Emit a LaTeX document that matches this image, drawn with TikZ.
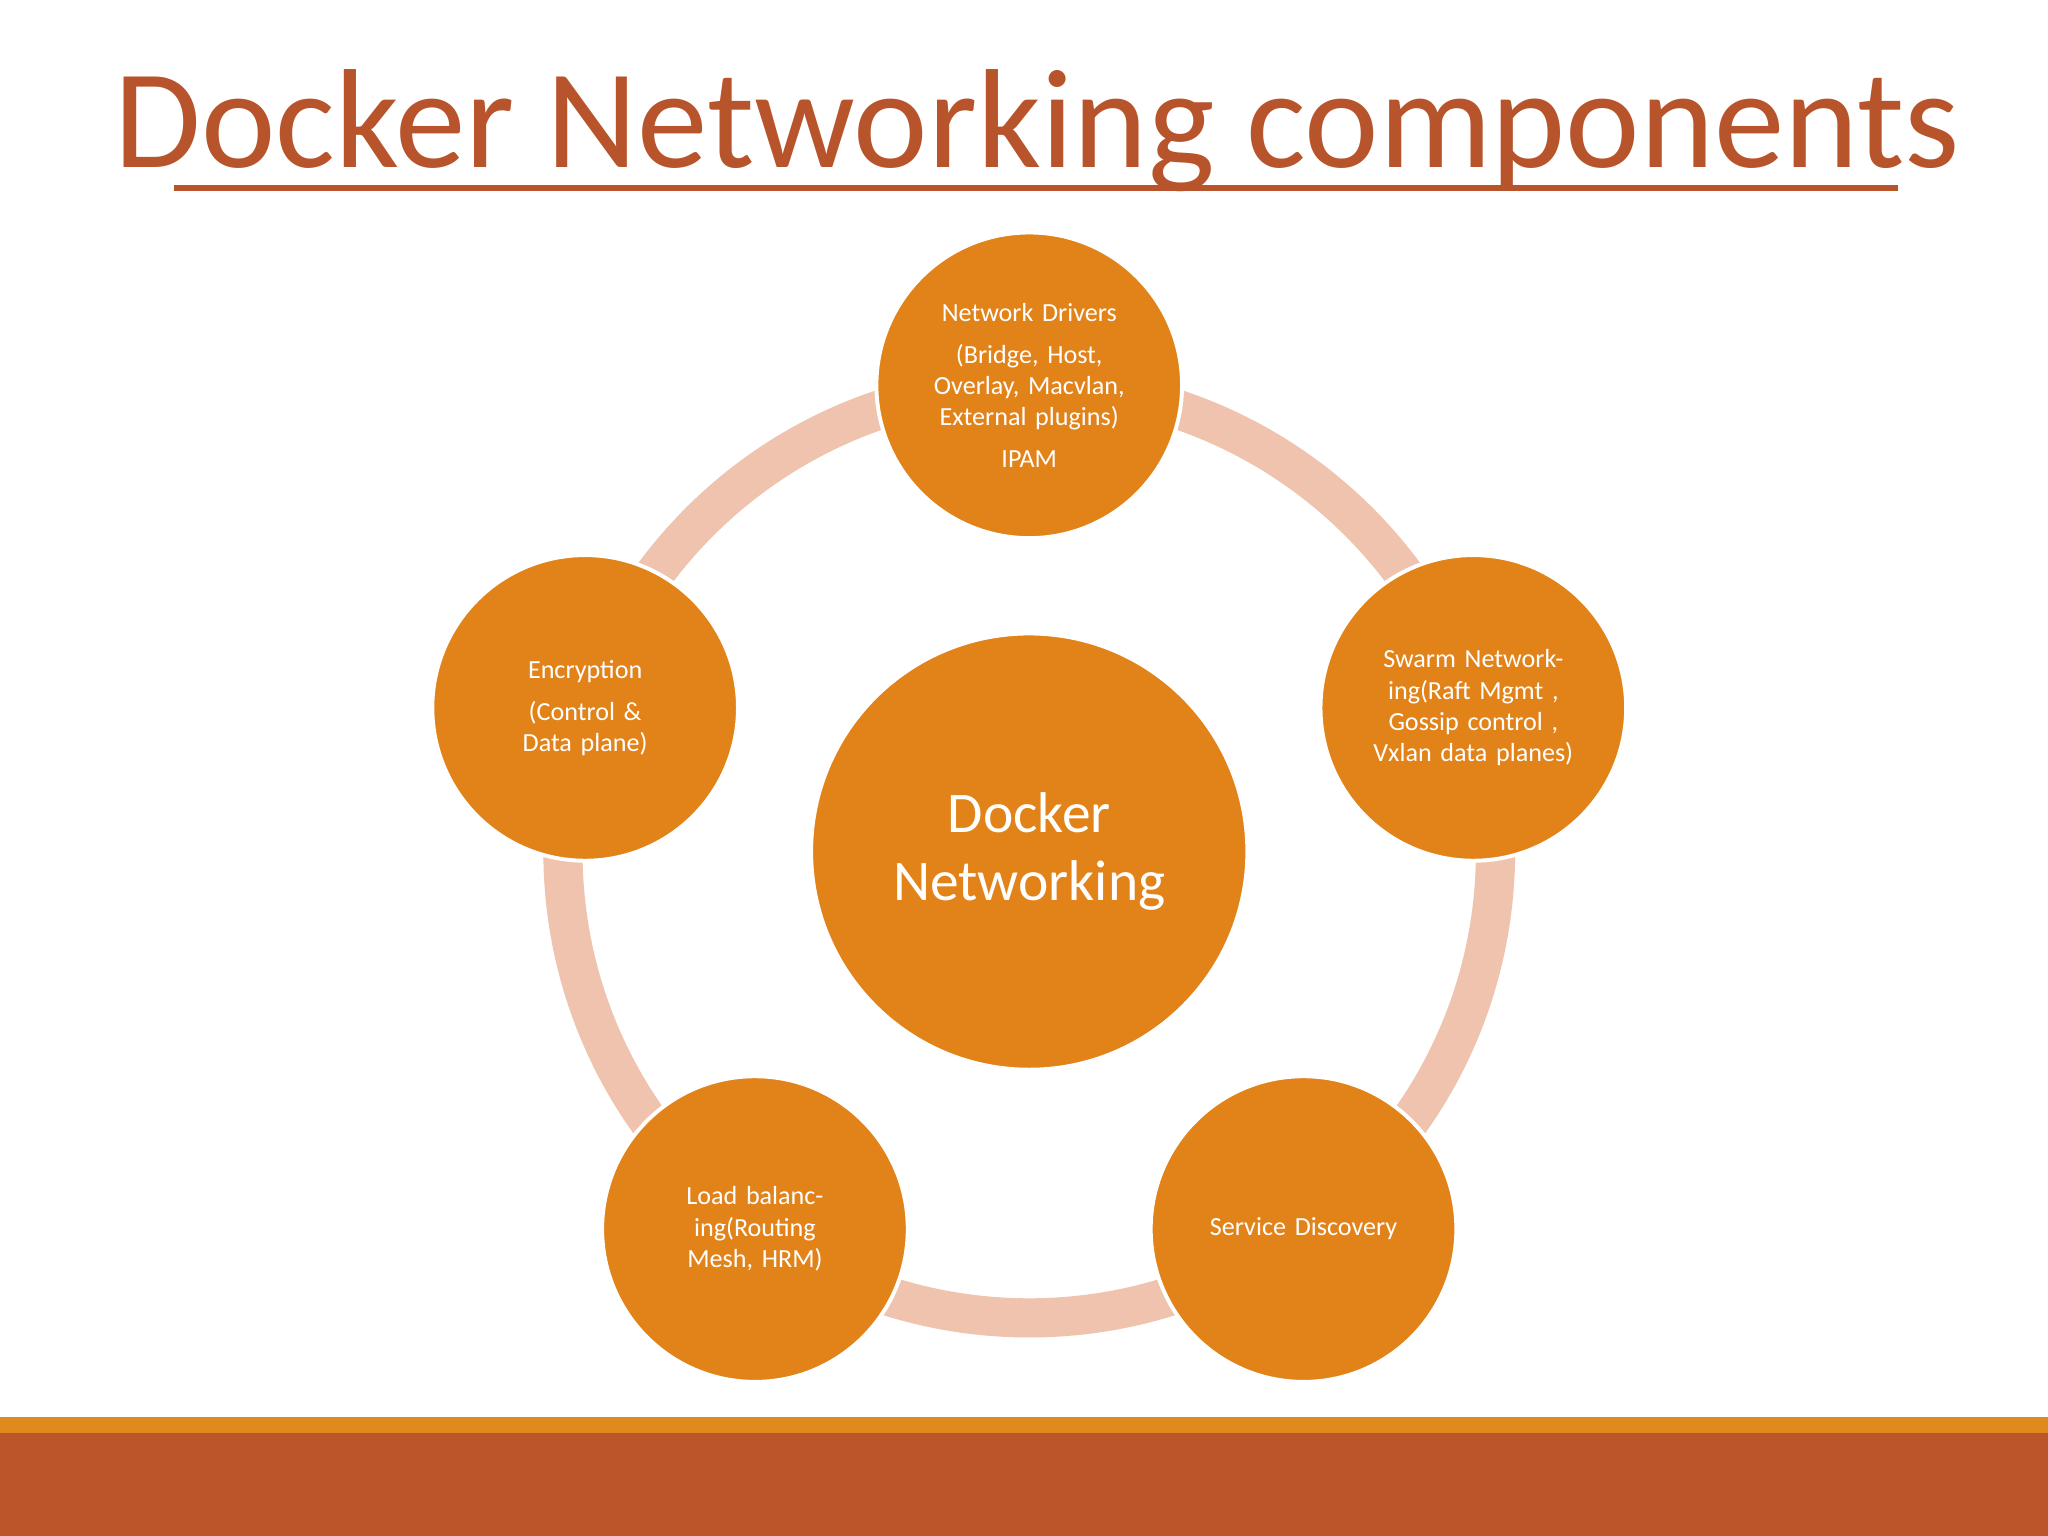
\documentclass[tikz,border=0pt]{standalone}
\usepackage{fontspec}
\setmainfont{Carlito}
\begin{document}
\begin{tikzpicture}[x=0.5pt,y=-0.5pt,
  sat/.style={circle,fill=circ,draw=white,line width=1.5pt,minimum size=117pt,inner sep=0pt,text=white,align=center,font=\fontsize{10}{12}\selectfont,text width=80pt}]
\definecolor{circ}{HTML}{E2831A}
\definecolor{ring}{HTML}{EFC3AE}
\definecolor{rust}{HTML}{BD552B}
\definecolor{tit}{HTML}{B8542B}
\definecolor{bar}{HTML}{E08A1E}
\useasboundingbox (0,0) rectangle (1568,1176);
\fill[white] (0,0) rectangle (1568,1176);
\node[text=tit,font=\fontsize{54}{60}\selectfont,anchor=base] (title) at (794,128) {Docker Networking components};
\draw[tit,line width=2pt] (133,144) -- (1453,144);
\fill[bar] (0,1085) rectangle (1568,1097);
\fill[rust] (0,1097) rectangle (1568,1176);
\coordinate (c) at (788,652);
\draw[ring,line width=15pt] (c) circle[radius=357];
\node[circle,fill=circ,draw=white,line width=1.5pt,minimum size=167pt,inner sep=0pt,text=white,align=center,font=\fontsize{22}{26}\selectfont] (center) at (c) {Docker\\Networking};
\node[sat] (top) at (788,295) {Network Drivers\\[4pt](Bridge, Host, Overlay, Macvlan, External plugins)\\[4pt]IPAM};
\node[sat] (right) at (1128,542) {Swarm Networking(Raft Mgmt , Gossip control , Vxlan data planes)};
\node[sat] (br) at (998,941) {Service Discovery};
\node[sat] (bl) at (578,941) {Load balancing(Routing Mesh, HRM)};
\node[sat] (left) at (448,542) {Encryption\\[4pt](Control \& Data plane)};
\end{tikzpicture}
\end{document}
